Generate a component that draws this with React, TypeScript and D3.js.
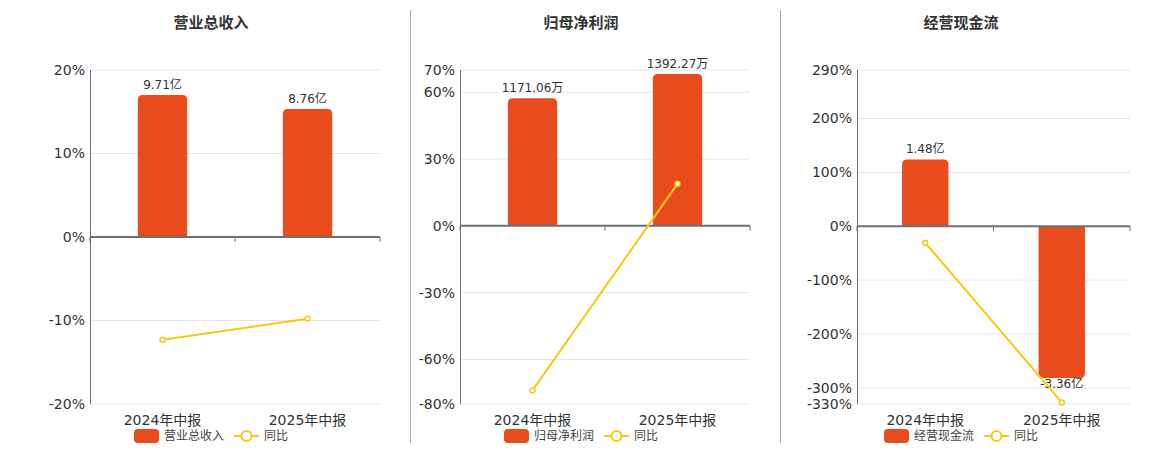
// @ts-nocheck
import React from 'react';
import * as d3 from 'd3';

const categories = ['2024年中报', '2025年中报'];

const revenue = [9.71, 8.76];
const revenueYoy = [-12.3, -9.78];
const profit = [1171.06, 1392.27];
const profitYoy = [-73.9, 18.89];
const cashflow = [1.48, -3.36];
const cashflowYoy = [-30.7, -327.0];

const revenueTicks = [-20, -10, 0, 10, 20];
const profitTicks = [-80, -60, -30, 0, 30, 60, 70];
const cashflowTicks = [-330, -300, -200, -100, 0, 100, 200, 290];

const BAR = '#E84C1C';
const LINE = '#F2CB12';
const AXIS = '#6E7079';
const GRID = '#E0E6F1';
const FONT = '"DejaVu Sans", "Noto Sans CJK SC", sans-serif';

const panels = [
  {
    title: '营业总收入', name: '营业总收入', bars: revenue, yoy: revenueYoy, unit: '亿',
    ticks: revenueTicks, barMax: 11.42, left: 90, right: 380, center: 211,
  },
  {
    title: '归母净利润', name: '归母净利润', bars: profit, yoy: profitYoy, unit: '万',
    ticks: profitTicks, barMax: 1430, left: 460, right: 750, center: 581,
  },
  {
    title: '经营现金流', name: '经营现金流', bars: cashflow, yoy: cashflowYoy, unit: '亿',
    ticks: cashflowTicks, barMax: 3.46, left: 857, right: 1130, center: 961,
  },
];

const TOP = 70;
const BOTTOM = 404;

function barPath(x, w, y0, y1, r) {
  // rounded corners on the far end of the bar
  if (y1 < y0) {
    return `M${x},${y0}V${y1 + r}Q${x},${y1} ${x + r},${y1}H${x + w - r}Q${x + w},${y1} ${x + w},${y1 + r}V${y0}Z`;
  }
  return `M${x},${y0}V${y1 - r}Q${x},${y1} ${x + r},${y1}H${x + w - r}Q${x + w},${y1} ${x + w},${y1 - r}V${y0}Z`;
}

function Panel({ p }) {
  const pMin = d3.min(p.ticks);
  const pMax = d3.max(p.ticks);
  const y = d3.scaleLinear().domain([pMin, pMax]).range([BOTTOM, TOP]);
  const yBar = d3.scaleLinear().domain([p.barMax * pMin / pMax, p.barMax]).range([BOTTOM, TOP]);
  const x = d3.scaleBand().domain(categories).range([p.left, p.right]);
  const bw = x.bandwidth() * 0.34;
  const zero = y(0);
  const line = d3.line()
    .x((d, i) => x(categories[i]) + x.bandwidth() / 2)
    .y(d => y(d));

  const legendW = 25 + 5 + 60 + 10 + 25 + 5 + 24;
  const lx = p.center - legendW / 2;
  const ly = 436;

  return (
    <g>
      <text x={p.center} y={28} textAnchor="middle" fontSize={15} fontWeight="bold" fill="#333">{p.title}</text>
      {p.ticks.map(t => (
        <g key={t}>
          {t !== 0 && <line x1={p.left} x2={p.right} y1={y(t)} y2={y(t)} stroke={GRID} />}
          <text x={p.left - 5} y={y(t)} dy="0.35em" textAnchor="end" fontSize={14} fill="#333">{t}%</text>
        </g>
      ))}
      <line x1={p.left + 0.5} x2={p.left + 0.5} y1={TOP} y2={BOTTOM} stroke={AXIS} />
      {p.bars.map((v, i) => {
        const bx = x(categories[i]) + (x.bandwidth() - bw) / 2;
        const by = yBar(v);
        return (
          <g key={i}>
            <path d={barPath(bx, bw, zero, by, 5)} fill={BAR} />
            <text x={bx + bw / 2} y={v >= 0 ? by - 6 : by + 10} textAnchor="middle" fontSize={12} fill="#333">
              {v.toFixed(2)}{p.unit}
            </text>
          </g>
        );
      })}
      <line x1={p.left} x2={p.right} y1={zero} y2={zero} stroke={AXIS} strokeWidth={2} />
      {[...categories.map(c => x(c)), p.right].map((tx, i) => (
        <line key={i} x1={tx} x2={tx} y1={zero} y2={zero + 5} stroke={AXIS} />
      ))}
      {categories.map(c => (
        <text key={c} x={x(c) + x.bandwidth() / 2} y={425} textAnchor="middle" fontSize={14} fill="#333">{c}</text>
      ))}
      <path d={line(p.yoy)} fill="none" stroke={LINE} strokeWidth={2} />
      {p.yoy.map((v, i) => (
        <circle key={i} cx={x(categories[i]) + x.bandwidth() / 2} cy={y(v)} r={2.5} fill="#fff" stroke={LINE} strokeWidth={1.5} />
      ))}
      <rect x={lx} y={ly - 7} width={25} height={14} rx={4} fill={BAR} />
      <text x={lx + 30} y={ly} dy="0.35em" fontSize={12} fill="#444">{p.name}</text>
      <line x1={lx + 100} x2={lx + 125} y1={ly} y2={ly} stroke={LINE} strokeWidth={2} />
      <circle cx={lx + 112.5} cy={ly} r={5} fill="#fff" stroke={LINE} strokeWidth={2} />
      <text x={lx + 130} y={ly} dy="0.35em" fontSize={12} fill="#444">同比</text>
    </g>
  );
}

export default function App() {
  return (
    <svg width={1160} height={450} style={{ position: 'absolute', left: 0, top: 0, background: '#fff' }} fontFamily={FONT}>
      {panels.map((p, i) => <Panel key={i} p={p} />)}
      <line x1={410.5} x2={410.5} y1={10} y2={443} stroke="#aaa" />
      <line x1={780.5} x2={780.5} y1={10} y2={443} stroke="#aaa" />
    </svg>
  );
}
